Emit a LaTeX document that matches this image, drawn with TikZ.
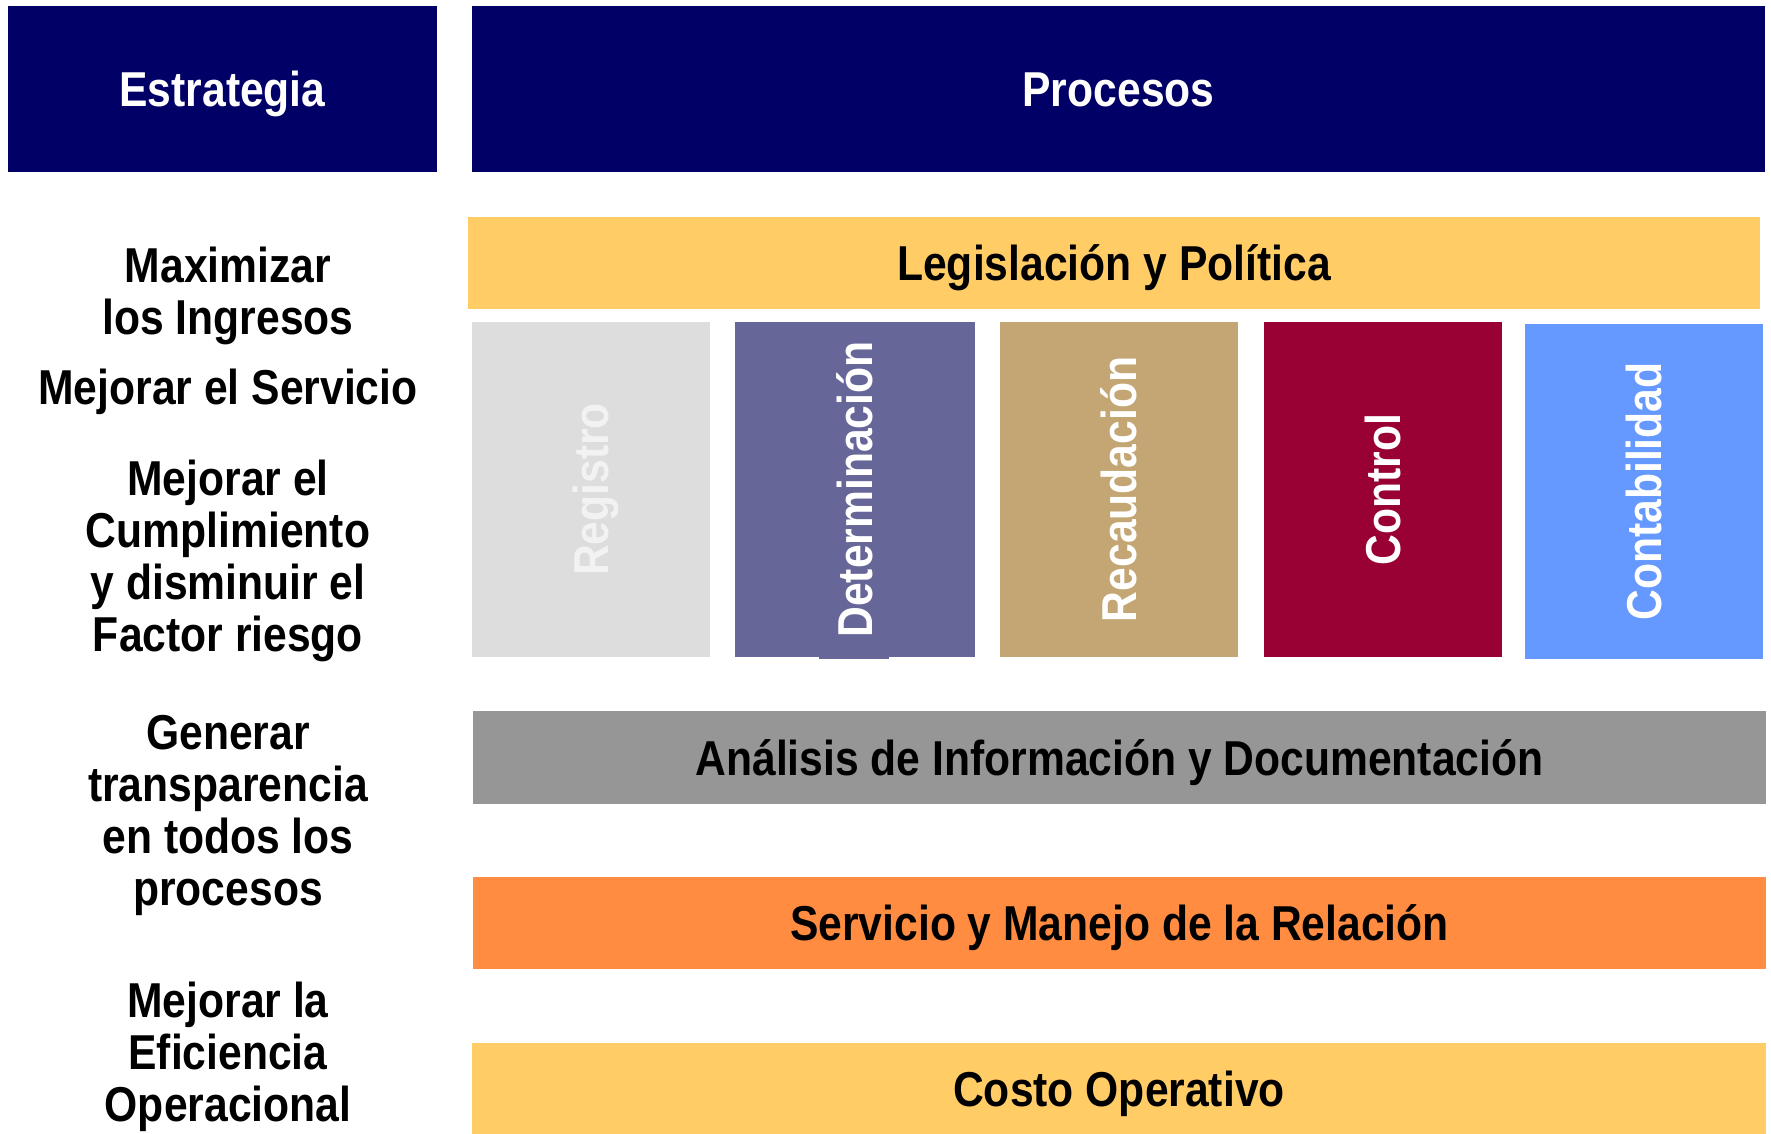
\documentclass[tikz,border=0pt]{standalone}
\usepackage{fontspec}
\newfontfamily\labfont[FakeStretch=0.87]{Liberation Sans}
\definecolor{navy}{HTML}{000066}
\definecolor{gold}{HTML}{FFCC66}
\definecolor{lgray}{HTML}{DDDDDD}
\definecolor{purp}{HTML}{666699}
\definecolor{tan}{HTML}{C3A673}
\definecolor{maroon}{HTML}{990033}
\definecolor{sky}{HTML}{6699FF}
\definecolor{mgray}{HTML}{969696}
\definecolor{orng}{HTML}{FF8C40}
\tikzset{
  lab/.style={font=\labfont\bfseries\fontsize{49}{52}\selectfont},
  box/.style={rectangle, inner sep=0pt, outer sep=0pt, draw=none, lab},
  head/.style={box, fill=navy, text=white, minimum height=166pt},
  band/.style={box, minimum width=1293pt, minimum height=92pt, text=black},
  col/.style={box, minimum width=238pt, minimum height=335pt, text=white},
  capc/.style={text height=35pt, text depth=0pt},
  vtext/.style={lab, rotate=90, inner sep=0pt, capc},
  goal/.style={lab, align=center, text=black, inner sep=0pt}
}
\begin{document}
\begin{tikzpicture}[x=1pt,y=-1pt]
\useasboundingbox[fill=white] (0,0) rectangle (1771,1134);
% headers
\node[head, capc, minimum width=429pt] (estr) at (222.5,89) {Estrategia};
\node[head, capc, minimum width=1293pt] (proc) at (1118.5,89) {Procesos};
% bands
\node[band, capc, fill=gold, minimum width=1292pt] (leg) at (1114,263) {Legislación y Política};
\node[band, capc, fill=mgray, minimum height=93pt] (ana) at (1119.5,757.5) {Análisis de Información y Documentación};
\node[band, capc, fill=orng] (serv) at (1119.5,923) {Servicio y Manejo de la Relación};
\node[band, capc, fill=gold, minimum width=1294pt, minimum height=91pt] (costo) at (1119,1088.5) {Costo Operativo};
% columns
\node[col, fill=lgray] (reg) at (591,489.5) {};
\node[col, fill=purp, minimum width=240pt] (det) at (855,489.5) {};
\fill[purp] (819,655) rectangle (889,659);
\node[col, fill=tan] (rec) at (1119,489.5) {};
\node[col, fill=maroon] (con) at (1383,489.5) {};
\node[col, fill=sky] (cont) at (1644,491.5) {};
\node[vtext, text=white!95!black] at (reg.center) {Registro};
\node[vtext, text=white] at (det.center) {Determinación};
\node[vtext, text=white] at (rec.center) {Recaudación};
\node[vtext, text=white] at (con.center) {Control};
\node[vtext, text=white] at (cont.center) {Contabilidad};
% strategy goals
\node[goal] (g1) at (228,295.5) {Maximizar\\los Ingresos};
\node[goal] (g2) at (228,391.5) {Mejorar el Servicio};
\node[goal] (g3) at (228,560.5) {Mejorar el\\Cumplimiento\\y disminuir el\\Factor riesgo};
\node[goal] (g4) at (228,815.5) {Generar\\transparencia\\en todos los\\procesos};
\node[goal] (g5) at (228,1056.5) {Mejorar la\\Eficiencia\\Operacional};
\end{tikzpicture}
\end{document}
